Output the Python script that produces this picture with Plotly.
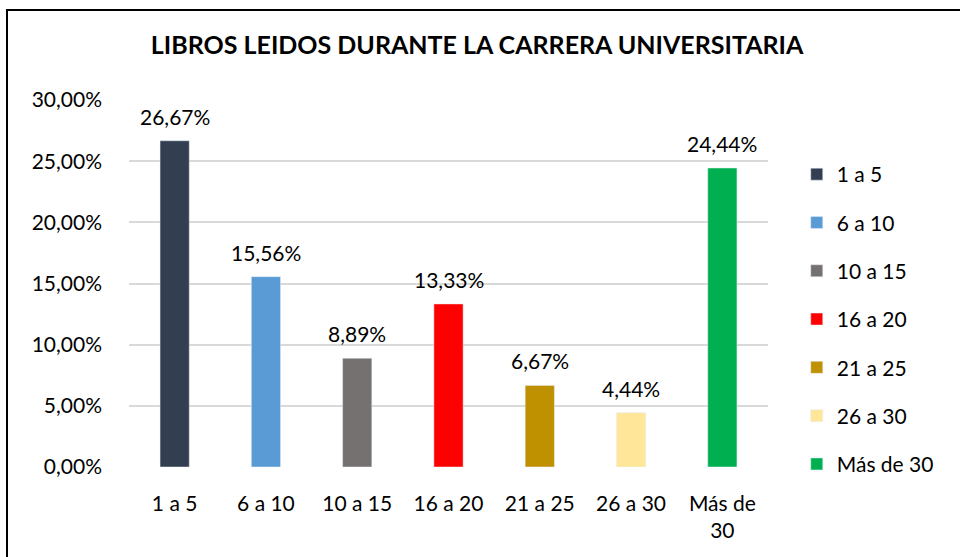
import plotly.graph_objects as go

categories = ["1 a 5", "6 a 10", "10 a 15", "16 a 20", "21 a 25", "26 a 30", "Más de 30"]
tick_labels = ["1 a 5", "6 a 10", "10 a 15", "16 a 20", "21 a 25", "26 a 30", "Más de<br>30"]
values = [0.2667, 0.1556, 0.0889, 0.1333, 0.0667, 0.0444, 0.2444]
colors = ["#333F50", "#5B9BD5", "#767171", "#FF0000", "#BF9000", "#FFE699", "#00B050"]

FONT = "Lato"
FS = 21

fig = go.Figure()
for i, (c, v, col) in enumerate(zip(categories, values, colors)):
    fig.add_trace(go.Bar(
        x=[c], y=[v], name=c, marker_color=col, width=0.32,
        legendgroup=c, showlegend=True,
    ))
    fig.add_annotation(x=c, y=v, text=f"{v*100:.2f}%".replace(".", ","),
                       showarrow=False, yanchor="bottom", yshift=10,
                       font=dict(family=FONT, size=FS, color="#000000"))

fig.update_layout(
    width=960, height=557,
    paper_bgcolor="white", plot_bgcolor="white",
    separators=",.",
    barmode="overlay",
    margin=dict(l=129, r=192, t=100, b=90),
    title=dict(text="<b>LIBROS LEIDOS DURANTE LA CARRERA UNIVERSITARIA</b>",
               x=0.497, xanchor="center", y=1 - 45 / 557, yanchor="middle",
               font=dict(family=FONT, size=25, color="#000000")),
    legend=dict(x=1.045, y=(557 - 90 - 154) / 367, xanchor="left", yanchor="top",
                font=dict(family=FONT, size=FS, color="#000000"),
                traceorder="grouped", tracegroupgap=18, itemwidth=30),
    xaxis=dict(categoryorder="array", categoryarray=categories,
               tickvals=categories, ticktext=tick_labels,
               tickfont=dict(family=FONT, size=FS, color="#000000"),
               showgrid=False, showline=False, ticks="", ticklabelstandoff=22),
    yaxis=dict(range=[0, 0.30], dtick=0.05, tickformat=".2%",
               tickfont=dict(family=FONT, size=FS, color="#000000"),
               gridcolor="#D9D9D9", gridwidth=1.5, zeroline=False,
               showline=False, ticks="", ticklabelstandoff=26),
    showlegend=True,
)

fig.add_shape(type="rect", xref="paper", yref="paper",
              x0=(7 - 129) / 639, x1=(1000 - 129) / 639,
              y0=(557 - 90 - 600) / 367, y1=(557 - 90 - 10) / 367,
              line=dict(color="#000000", width=2), fillcolor="rgba(0,0,0,0)", layer="above")

fig.write_html("out.html", config={"displayModeBar": False},
               post_script="document.body.style.margin='0';")
